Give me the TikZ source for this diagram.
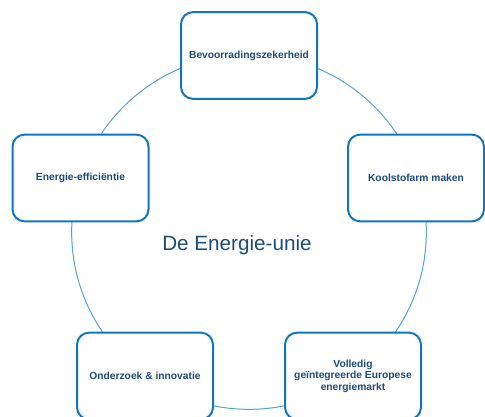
\documentclass[tikz,border=0pt]{standalone}
\usepackage{fontspec}
\setmainfont{Liberation Sans}
\definecolor{rimblue}{RGB}{16,118,190}
\definecolor{ringblue}{RGB}{90,160,215}
\definecolor{inkblue}{RGB}{28,76,122}
\begin{document}
\begin{tikzpicture}[x=0.75pt, y=-0.75pt,
	box/.style={shape=rectangle, rounded corners=9pt, draw=rimblue, line width=1.5pt, fill=white,
		text=inkblue, font=\fontsize{7.7}{8.6}\selectfont\bfseries, align=center,
		minimum width=102pt, minimum height=65pt, inner sep=2pt}]
	\useasboundingbox (0,0) rectangle (485,417);

	\coordinate (mid) at (249,232);
	\draw [ringblue, line width=0.75pt] (mid) circle (133pt);

	\node[text=inkblue, font=\fontsize{15.5}{18}\selectfont] (title) at (237,245) {De Energie-unie};

	\node[box] (0) at (249,55.5) {Bevoorradingszekerheid};
	\node[box] (1) at (416,178)  {Koolstofarm maken};
	\node[box] (2) at (353,376)  {Volledig\\geïntegreerde Europese\\energiemarkt};
	\node[box] (3) at (145,376)  {Onderzoek \& innovatie};
	\node[box] (4) at (80.5,178) {Energie-efficiëntie};
\end{tikzpicture}
\end{document}
